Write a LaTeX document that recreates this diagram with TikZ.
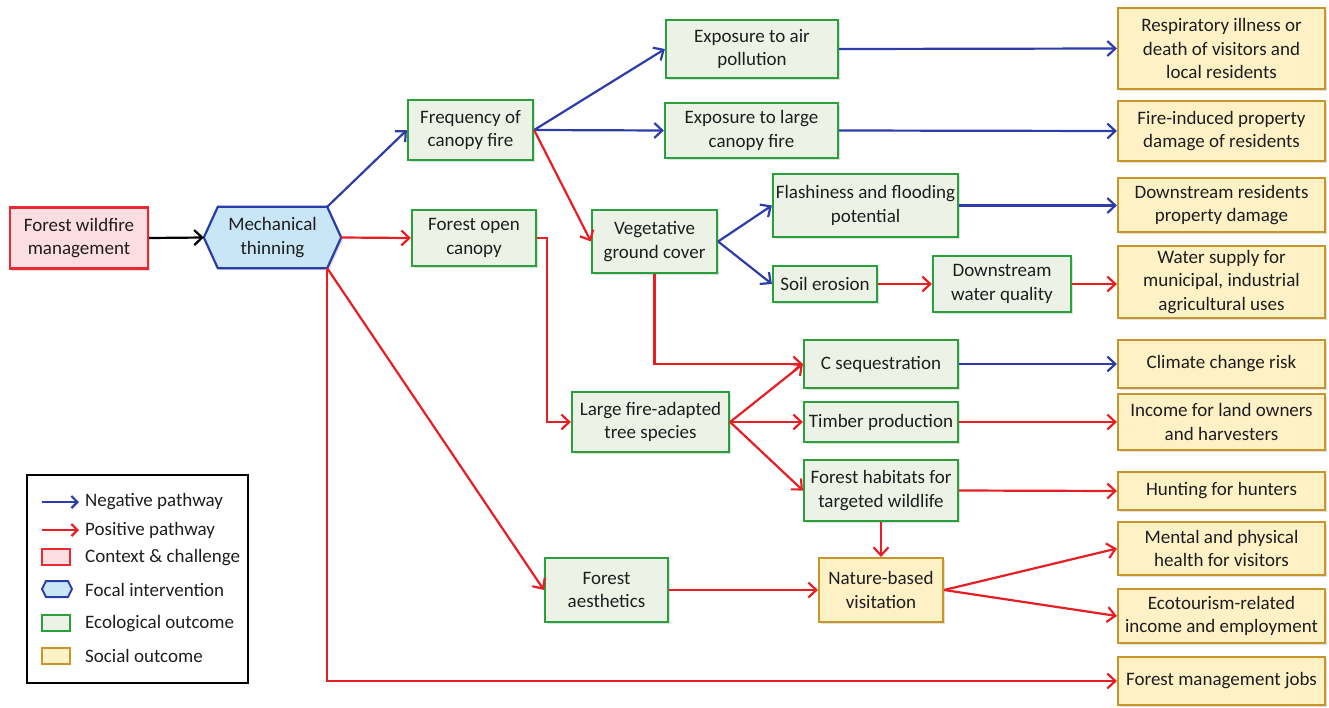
\documentclass[tikz,border=0pt]{standalone}
\usepackage{fontspec}
\setmainfont{Carlito}
\usetikzlibrary{arrows.meta,shadows}
\definecolor{negB}{RGB}{45,60,170}
\definecolor{posR}{RGB}{232,30,36}
\definecolor{ecoB}{RGB}{40,160,60}
\definecolor{ecoF}{RGB}{236,243,230}
\definecolor{socB}{RGB}{200,150,40}
\definecolor{socF}{RGB}{255,241,198}
\definecolor{ctxB}{RGB}{232,40,50}
\definecolor{ctxF}{RGB}{252,222,226}
\definecolor{focB}{RGB}{40,60,170}
\definecolor{focF}{RGB}{200,230,246}
\definecolor{txt}{RGB}{30,30,30}
\tikzset{
  box/.style={line width=2.2pt, align=center, inner sep=2pt, text=txt,
    font=\fontsize{19}{23.5}\selectfont,
    drop shadow={shadow xshift=2pt,shadow yshift=-2pt,opacity=0.25}},
  eco/.style={box, draw=ecoB, fill=ecoF},
  soc/.style={box, draw=socB, fill=socF, minimum width=207pt},
  ctx/.style={box, draw=ctxB, fill=ctxF},
  arrowtip/.style={-{Straight Barb[length=8pt,width=15pt]}},
  negarr/.style={arrowtip, draw=negB, line width=2.2pt},
  posarr/.style={arrowtip, draw=posR, line width=2.2pt},
  blkarr/.style={arrowtip, draw=black, line width=2.2pt},
  leg/.style={anchor=west, font=\fontsize{19}{23.5}\selectfont, inner sep=0pt, text=txt},
}
\begin{document}
\begin{tikzpicture}[x=1pt,y=-1pt]
\useasboundingbox (0,0) rectangle (1329,707);

% context and intervention
\node[ctx, minimum width=138pt, minimum height=61pt] (fwm) at (79,238) {Forest wildfire\\management};
\node[minimum width=137pt, minimum height=61pt, align=center, inner sep=0pt] (mt) at (272.5,237.5) {};
\coordinate (mtne) at ([xshift=-14pt]mt.north east);
\coordinate (mtse) at ([xshift=-14pt]mt.south east);
\coordinate (mtnw) at ([xshift=14pt]mt.north west);
\coordinate (mtsw) at ([xshift=14pt]mt.south west);
\filldraw[draw=focB, fill=focF, line width=2.2pt,
  drop shadow={shadow xshift=2pt,shadow yshift=-2pt,opacity=0.25}]
  (mtnw) -- (mtne) -- (mt.east) -- (mtse) -- (mtsw) -- (mt.west) -- cycle;
\node[align=center, text=txt, font=\fontsize{19}{23.5}\selectfont] at (mt) {Mechanical\\thinning};

% ecological outcomes
\node[eco, minimum width=125pt, minimum height=60pt] (freq) at (470.5,130) {Frequency of\\canopy fire};
\node[eco, minimum width=124pt, minimum height=56pt] (foc) at (474,238) {Forest open\\canopy};
\node[eco, minimum width=172pt, minimum height=58pt] (expair) at (752,49) {Exposure to air\\pollution};
\node[eco, minimum width=173pt, minimum height=55pt] (explarge) at (751.5,130.5) {Exposure to large\\canopy fire};
\node[eco, minimum width=125pt, minimum height=63pt] (veg) at (654.5,241.5) {Vegetative\\ground cover};
\node[eco, minimum width=185pt, minimum height=63pt] (flash) at (865.5,205.5) {Flashiness and flooding\\potential};
\node[eco, minimum width=104pt, minimum height=36pt] (soil) at (825,284) {Soil erosion};
\node[eco, minimum width=138pt, minimum height=56pt] (dwq) at (1002,284) {Downstream\\water quality};
\node[eco, minimum width=154pt, minimum height=48pt] (cseq) at (881,364) {C sequestration};
\node[eco, minimum width=154pt, minimum height=40pt] (timber) at (881,422) {Timber production};
\node[eco, minimum width=154pt, minimum height=61pt] (habitat) at (881,490.5) {Forest habitats for\\targeted wildlife};
\node[eco, minimum width=157pt, minimum height=60pt] (large) at (650.5,422) {Large fire-adapted\\tree species};
\node[eco, minimum width=123pt, minimum height=64pt] (aesth) at (606.5,590) {Forest\\aesthetics};

% social outcomes
\node[soc, minimum width=124pt, minimum height=64pt] (nbv) at (881,590) {Nature-based\\visitation};
\node[soc, minimum height=81pt] (resp) at (1221.5,48.5) {Respiratory illness or\\death of visitors and\\local residents};
\node[soc, minimum height=60pt] (fireprop) at (1221.5,131) {Fire-induced property\\damage of residents};
\node[soc, minimum height=54pt] (dsr) at (1221.5,205) {Downstream residents\\property damage};
\node[soc, minimum height=72pt] (water) at (1221.5,282) {Water supply for\\municipal, industrial\\agricultural uses};
\node[soc, minimum height=48pt] (climate) at (1221.5,364) {Climate change risk};
\node[soc, minimum height=56pt] (income) at (1221.5,422) {Income for land owners\\and harvesters};
\node[soc, minimum height=38pt] (hunt) at (1221.5,491) {Hunting for hunters};
\node[soc, minimum height=53pt] (mental) at (1221.5,548.5) {Mental and physical\\health for visitors};
\node[soc, minimum height=54pt] (ecot) at (1221.5,616) {Ecotourism-related\\income and employment};
\node[soc, minimum height=48pt] (jobs) at (1221.5,681) {Forest management jobs};

% connectors
\draw[blkarr] (fwm.east) -- (mt.west);
\draw[negarr] (mtne) -- (freq.west);
\draw[posarr] (mt.east) -- (foc.west);
\draw[posarr] (mtse) -- (aesth.west);
\draw[posarr] (mtse) |- (jobs.west);
\draw[negarr] (freq.east) -- (expair.west);
\draw[negarr] (freq.east) -- (explarge.west);
\draw[posarr] (freq.east) -- (veg.west);
\draw[negarr] (expair.east) -- (resp.west);
\draw[negarr] (explarge.east) -- (fireprop.west);
\draw[posarr] (foc.east) -- ++(10,0) |- (large.west);
\draw[negarr] (veg.east) -- (flash.west);
\draw[negarr] (veg.east) -- (soil.west);
\draw[posarr] (veg.south) |- (cseq.west);
\draw[negarr] (flash.east) -- (flash.east -| dsr.west);
\draw[posarr] (soil.east) -- (dwq.west);
\draw[posarr] (dwq.east) -- (dwq.east -| water.west);
\draw[posarr] (large.east) -- (cseq.west);
\draw[posarr] (large.east) -- (timber.west);
\draw[posarr] (large.east) -- (habitat.west);
\draw[negarr] (cseq.east) -- (climate.west);
\draw[posarr] (timber.east) -- (income.west);
\draw[posarr] (habitat.east) -- (hunt.west);
\draw[posarr] (habitat.south) -- (nbv.north);
\draw[posarr] (aesth.east) -- (nbv.west);
\draw[posarr] (nbv.east) -- (mental.west);
\draw[posarr] (nbv.east) -- (ecot.west);

% legend
\node[draw=black, line width=1.8pt, minimum width=221pt, minimum height=208pt, inner sep=0pt] (legend) at (137.5,579) {};
\coordinate (la1) at (42,502);
\coordinate (la2) at (79,502);
\coordinate (lb1) at (42,530);
\coordinate (lb2) at (79,530);
\draw[negarr, -{Straight Barb[length=6pt,width=12pt]}] (la1) -- (la2);
\draw[posarr, -{Straight Barb[length=6pt,width=12pt]}] (lb1) -- (lb2);
\draw[draw=ctxB, fill=ctxF, line width=2pt] (42,549) rectangle (70,565);
\filldraw[draw=focB, fill=focF, line width=2pt] (42,589) -- (46,581) -- (68,581) -- (72,589) -- (68,597) -- (46,597) -- cycle;
\draw[draw=ecoB, fill=ecoF, line width=2pt] (42,615) rectangle (70,631);
\draw[draw=socB, fill=socF, line width=2pt] (42,648) rectangle (70,664);
\node[leg] (l1) at (85,502) {Negative pathway};
\node[leg] (l2) at (85,530) {Positive pathway};
\node[leg] (l3) at (85,558) {Context \& challenge};
\node[leg] (l4) at (85,590) {Focal intervention};
\node[leg] (l5) at (85,624) {Ecological outcome};
\node[leg] (l6) at (85,656) {Social outcome};
\end{tikzpicture}
\end{document}
